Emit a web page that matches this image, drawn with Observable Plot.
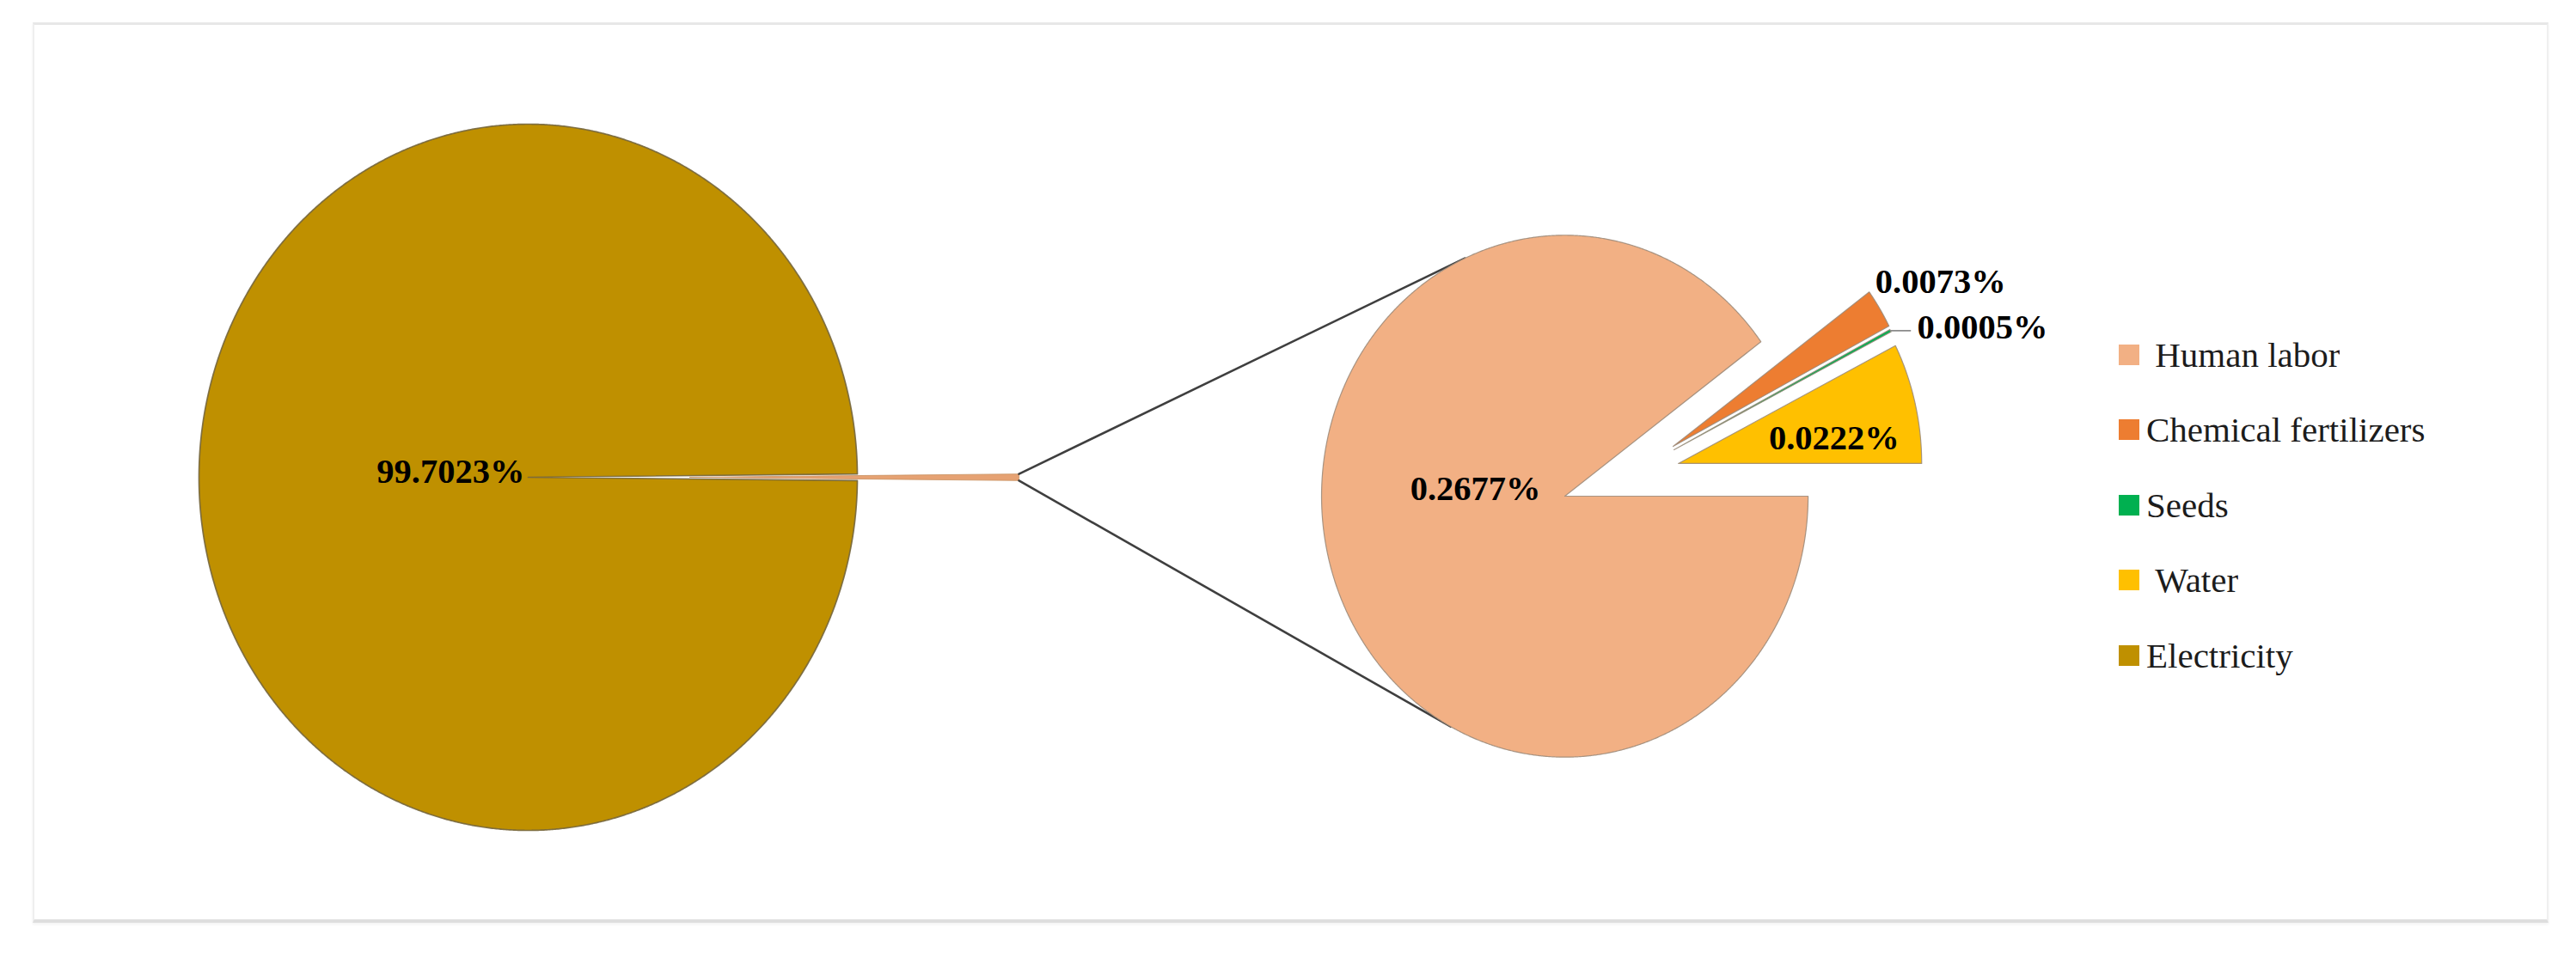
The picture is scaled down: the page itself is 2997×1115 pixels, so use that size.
<!DOCTYPE html>
<html>
<head>
<meta charset="utf-8">
<script src="https://cdn.jsdelivr.net/npm/d3@7"></script>
<script src="https://cdn.jsdelivr.net/npm/@observablehq/plot@0.6"></script>
<style>
html, body { margin: 0; padding: 0; background: #fff; }
#wrap { position: relative; width: 2997px; height: 1115px; overflow: hidden; background: #fff; }
#frame { position: absolute; left: 38px; top: 26px; width: 2927px; height: 1048px; box-sizing: border-box;
  border-top: 3px solid #e7e7e7; border-left: 2px solid #efefef; border-right: 2px solid #efefef; border-bottom: 4px solid #dedede;
  box-shadow: 0 2px 3px rgba(0,0,0,0.05); }
#chart { position: absolute; left: 0; top: 0; }
#legend { position: absolute; left: 2465px; top: 369px; }
.lg-swatches { font-family: "Liberation Serif", "Times New Roman", serif; font-size: 41px; color: #1c1c1c; margin: 0; }
.lg-swatch { height: 87.5px; padding: 0; margin: 0; display: flex; align-items: center; }
.lg-swatch > svg { margin-right: 8px; }
</style>
</head>
<body>
<div id="wrap"><div id="frame"></div><div id="chart"></div><div id="legend"></div></div>
<script>
// ---------- data ----------
const categories = ["Human labor", "Chemical fertilizers", "Seeds", "Water", "Electricity"];
const legendLabels = ["\u00a0Human labor", "Chemical fertilizers", "Seeds", "\u00a0Water", "Electricity"];
const shares = [0.2677, 0.0073, 0.0005, 0.0222, 99.7023]; // percent
const valueLabels = ["0.2677%", "0.0073%", "0.0005%", "0.0222%", "99.7023%"];
const colors = ["#F2B084", "#ED7D31", "#00B050", "#FFC000", "#BF9000"];

// ---------- layout (unit space: left pie radius = 1) ----------
const W = 2997, H = 1115;
const pxX = 383, pxY = 411;           // pixels per unit (the figure is slightly stretched vertically)
const cx0 = 614, cy0 = 555;           // pixel position of the left pie centre
const xDomain = [-cx0 / pxX, (W - cx0) / pxX];
const yDomain = [-(H - cy0) / pxY, cy0 / pxY];
const C1 = [0, 0], R1 = 1;
const C2 = [3.149, -0.0535], R2 = 0.739;
const otherExplode = 0.491;
const explode = {
  "Human labor": [0, 0],
  "Chemical fertilizers": [0.329, 0.141],
  "Seeds": [0.3316, 0.1314],
  "Water": [0.345, 0.0925]
};
// label placement: [angle in degrees from the slice vertex, distance as a fraction of radius]
const labelPlace = {
  "Electricity": [175.9, 0.236],
  "Human labor": [175.9, 0.368],
  "Water": [8.5, 0.647],
  "Chemical fertilizers": [29.9, 1.268],
  "Seeds": [25.2, 1.105]
};

const deg = Math.PI / 180;
function wedge(key, cat, cx, cy, r, a0, a1) {
  const n = Math.max(2, Math.ceil(Math.abs(a1 - a0) / (0.25 * deg)));
  const pts = [{key, cat, x: cx, y: cy}];
  for (let k = 0; k <= n; ++k) {
    const a = a0 + (a1 - a0) * k / n;
    pts.push({key, cat, x: cx + r * Math.cos(a), y: cy + r * Math.sin(a)});
  }
  pts.push({key, cat, x: cx, y: cy});
  return pts;
}

// ---------- left pie ----------
const smallIdx = [0, 1, 2, 3];
const otherShare = d3.sum(smallIdx, i => shares[i]);
const half = (otherShare / 100) * Math.PI;
const elecRows = wedge("Electricity", "Electricity", C1[0], C1[1], R1, half, 2 * Math.PI - half);
const otherRows = wedge("Other", "Other", C1[0] + otherExplode, C1[1], R1, -half, half);

// ---------- right pie ----------
const total2 = otherShare;
let cum = 0;
const rightRows = [];
const vertices = {};
const midAngles = {};
for (const i of smallIdx) {
  const cat = categories[i];
  const a0 = -cum / total2 * 2 * Math.PI;
  cum += shares[i];
  const a1 = -cum / total2 * 2 * Math.PI;
  const [ex, ey] = explode[cat];
  const vx = C2[0] + ex, vy = C2[1] + ey;
  vertices[cat] = [vx, vy];
  midAngles[cat] = (a0 + a1) / 2;
  rightRows.push(...wedge(cat, cat, vx, vy, R2, a0, a1));
}

// ---------- connector lines (from the exploded "other" wedge to tangents of the second pie) ----------
function tangent(P, sign) {
  const dx = P[0] - C2[0], dy = P[1] - C2[1];
  const d = Math.hypot(dx, dy);
  const phi = Math.atan2(dy, dx);
  const th = Math.acos(R2 / d);
  const a = phi + sign * th;
  return [C2[0] + R2 * Math.cos(a), C2[1] + R2 * Math.sin(a)];
}
const pTop = [C1[0] + otherExplode + R1 * Math.cos(half), C1[1] + R1 * Math.sin(half)];
const pBot = [C1[0] + otherExplode + R1 * Math.cos(half), C1[1] - R1 * Math.sin(half)];
const tTop = tangent(pTop, -1);
const tBot = tangent(pBot, +1);
const connRows = [
  {key: "top", x: pTop[0], y: pTop[1]}, {key: "top", x: tTop[0], y: tTop[1]},
  {key: "bot", x: pBot[0], y: pBot[1]}, {key: "bot", x: tBot[0], y: tBot[1]}
];

// ---------- labels ----------
const labelRows = categories.map((cat, i) => {
  const [ang, f] = labelPlace[cat];
  const [vx, vy] = cat === "Electricity" ? C1 : vertices[cat];
  const r = cat === "Electricity" ? R1 : R2;
  return {cat, text: valueLabels[i], x: vx + f * r * Math.cos(ang * deg), y: vy + f * r * Math.sin(ang * deg)};
});
const midLabels = labelRows.filter(d => d.cat !== "Seeds");
const startLabels = labelRows.filter(d => d.cat === "Seeds");
// leader line for the seeds label
const sv = vertices["Seeds"], sa = midAngles["Seeds"];
const tip = [sv[0] + R2 * Math.cos(sa), sv[1] + R2 * Math.sin(sa)];
const leaderRows = [{x: tip[0], y: tip[1]}, {x: startLabels[0].x - 8 / pxX, y: tip[1]}];

const labelFont = {fontFamily: "'Liberation Serif', 'Times New Roman', serif", fontSize: 40.5, fontWeight: "bold", fill: "#000", lineAnchor: "middle"};

const chart = Plot.plot({
  width: W, height: H, margin: 0,
  x: {domain: xDomain, axis: null},
  y: {domain: yDomain, axis: null},
  color: {domain: categories, range: colors},
  style: {background: "transparent", overflow: "visible"},
  marks: [
    Plot.line(elecRows, {x: "x", y: "y", z: "key", fill: "cat", stroke: "#76663c", strokeWidth: 1.7, strokeOpacity: 0.9, curve: "linear"}),
    Plot.line(otherRows, {x: "x", y: "y", z: "key", fill: "#E6A273", stroke: "#c89060", strokeWidth: 0.8, curve: "linear"}),
    Plot.line(connRows, {x: "x", y: "y", z: "key", stroke: "#3f3f3f", strokeWidth: 2.6, curve: "linear"}),
    Plot.line(rightRows, {x: "x", y: "y", z: "key", fill: "cat", stroke: "#9a8878", strokeWidth: 1.2, strokeOpacity: 0.85, curve: "linear"}),
    Plot.line(leaderRows, {x: "x", y: "y", stroke: "#8a8a8a", strokeWidth: 1.6}),
    Plot.text(midLabels, {x: "x", y: "y", text: "text", textAnchor: "middle", ...labelFont}),
    Plot.text(startLabels, {x: "x", y: "y", text: "text", textAnchor: "start", ...labelFont})
  ]
});
document.getElementById("chart").appendChild(chart);

const legend = Plot.legend({
  color: {domain: categories, range: colors},
  legend: "swatches",
  columns: 1,
  swatchSize: 24,
  className: "lg",
  tickFormat: d => legendLabels[categories.indexOf(d)]
});
document.getElementById("legend").appendChild(legend);
</script>
</body>
</html>
